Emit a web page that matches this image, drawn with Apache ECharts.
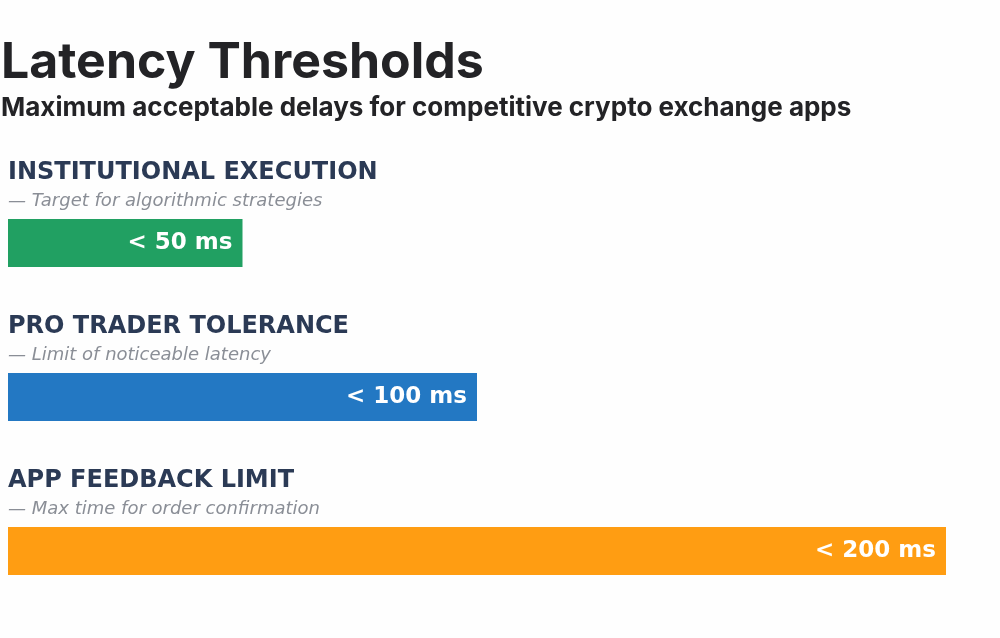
<!DOCTYPE html>
<html>
<head>
<meta charset="utf-8">
<script src="https://cdn.jsdelivr.net/npm/echarts@6/dist/echarts.min.js"></script>
<style>html,body{margin:0;padding:0;background:#fff;}#c{width:1000px;height:638px;}</style>
</head>
<body>
<div id="c"></div>
<script>
const categories = ['INSTITUTIONAL EXECUTION', 'PRO TRADER TOLERANCE', 'APP FEEDBACK LIMIT'];
const subtitles = ['Target for algorithmic strategies', 'Limit of noticeable latency', 'Max time for order confirmation'];
const values = [50, 100, 200];
const colors = ['#21a062', '#2378c3', '#ff9d12'];

const chart = echarts.init(document.getElementById('c'), null, {renderer: 'canvas'});
chart.setOption({
  backgroundColor: '#fefefe',
  animation: false,
  title: {
    text: 'Latency Thresholds',
    subtext: 'Maximum acceptable delays for competitive crypto exchange apps',
    left: -4,
    top: 33,
    itemGap: 7,
    textStyle: {fontFamily: 'Inter', fontWeight: 'bold', fontSize: 50, color: '#232326'},
    subtextStyle: {fontFamily: 'Inter', fontWeight: 'bold', fontSize: 26, color: '#232326'}
  },
  grid: {left: 8, right: 54, top: 166, bottom: 10, containLabel: false},
  xAxis: {type: 'value', min: 0, max: 200, show: false},
  yAxis: {
    type: 'category',
    data: categories,
    inverse: true,
    axisLine: {show: false},
    axisTick: {show: false},
    splitLine: {show: false},
    axisLabel: {
      inside: true,
      margin: 0,
      align: 'left',
      verticalAlign: 'bottom',
      padding: [0, 0, 29, 0],
      formatter: function (v, i) { return '{t|' + v + '}\n{s|— ' + subtitles[i] + '}'; },
      rich: {
        t: {fontFamily: 'DejaVu Sans', fontWeight: 'bold', fontSize: 24, color: '#2b3a55', lineHeight: 30},
        s: {fontFamily: 'DejaVu Sans', fontStyle: 'italic', fontSize: 18, color: '#8a8e96', lineHeight: 26}
      }
    }
  },
  series: [{
    type: 'bar',
    barWidth: 48,
    data: values.map((v, i) => ({value: v, itemStyle: {color: colors[i]}})),
    label: {
      show: true,
      position: 'insideRight',
      distance: 10,
      formatter: '< {c} ms',
      fontFamily: 'DejaVu Sans',
      fontWeight: 'bold',
      fontSize: 23,
      color: '#ffffff'
    }
  }]
});
</script>
</body>
</html>
